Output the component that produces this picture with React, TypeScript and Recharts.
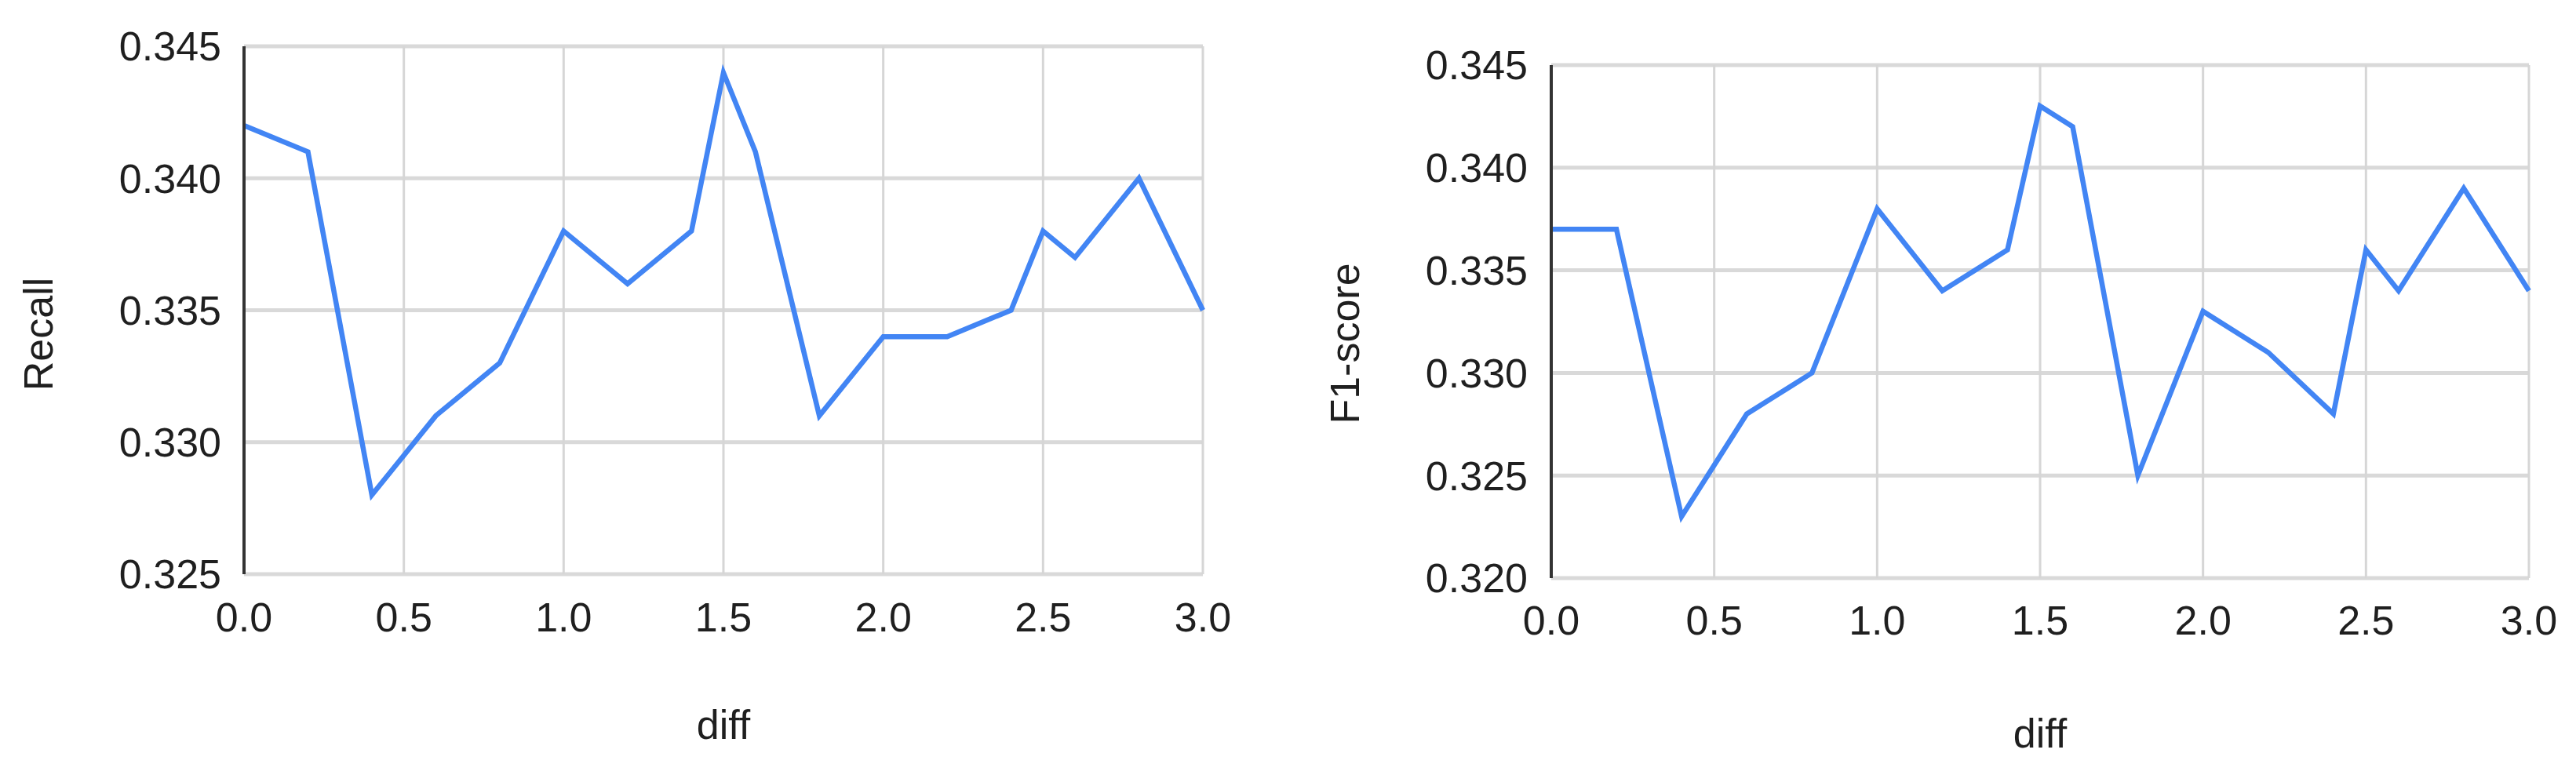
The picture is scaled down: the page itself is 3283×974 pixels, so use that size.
import { LineChart, Line, XAxis, YAxis, CartesianGrid, Label } from 'recharts';

// diff steps on the x axis
const diffValues = [0, 0.2, 0.4, 0.6, 0.8, 1.0, 1.2, 1.4, 1.5, 1.6, 1.8, 2.0, 2.2, 2.4, 2.5, 2.6, 2.8, 3.0];

const recallValues = [
  0.342, 0.341, 0.328, 0.331, 0.333, 0.338, 0.336, 0.338, 0.344,
  0.341, 0.331, 0.334, 0.334, 0.335, 0.338, 0.337, 0.34, 0.335,
];

const f1Values = [
  0.337, 0.337, 0.323, 0.328, 0.33, 0.338, 0.334, 0.336, 0.343,
  0.342, 0.325, 0.333, 0.331, 0.328, 0.336, 0.334, 0.339, 0.334,
];

const diffTicks = [0, 0.5, 1, 1.5, 2, 2.5, 3];
const recallTicks = [0.325, 0.33, 0.335, 0.34, 0.345];
const f1Ticks = [0.32, 0.325, 0.33, 0.335, 0.34, 0.345];

const FONT = '"Liberation Sans", Arial, sans-serif';
const TEXT = '#1f1f1f';
const BLUE = '#4285F4';

interface MetricChartProps {
  values: number[];
  ticks: number[];
  name: string;
  width: number;
  yAxisWidth: number;
  marginTop: number;
  marginRight: number;
  marginBottom: number;
  yTickGap: number;
  xTickGap: number;
  yTitle: [number, number];
  xTitle: [number, number];
}

function MetricChart(p: MetricChartProps) {
  const data = diffValues.map((d, i) => ({ diff: d, value: p.values[i] }));
  const tickStyle = { fill: TEXT, fontSize: 52, fontFamily: FONT };

  return (
    <LineChart
      width={p.width}
      height={974}
      data={data}
      margin={{ top: p.marginTop, right: p.marginRight, bottom: p.marginBottom, left: 0 }}
    >
      <CartesianGrid vertical={false} stroke="#d9d9d9" strokeWidth={5} />
      <CartesianGrid horizontal={false} stroke="#d6d6d6" strokeWidth={3} />
      <XAxis
        type="number"
        dataKey="diff"
        domain={[0, 3]}
        ticks={diffTicks}
        interval={0}
        height={100}
        axisLine={false}
        tickLine={false}
        tickSize={0}
        tickMargin={p.xTickGap}
        tick={tickStyle}
        tickFormatter={(v: number) => v.toFixed(1)}
      >
        <Label
          content={() => (
            <text x={p.xTitle[0]} y={p.xTitle[1]} textAnchor="middle" dominantBaseline="central" fill={TEXT} fontSize={52} fontFamily={FONT}>
              diff
            </text>
          )}
        />
      </XAxis>
      <YAxis
        type="number"
        domain={[p.ticks[0], p.ticks[p.ticks.length - 1]]}
        ticks={p.ticks}
        interval={0}
        width={p.yAxisWidth}
        axisLine={{ stroke: '#333333', strokeWidth: 4 }}
        tickLine={false}
        tickSize={0}
        tickMargin={p.yTickGap}
        tick={tickStyle}
        tickFormatter={(v: number) => v.toFixed(3)}
      >
        <Label
          content={() => (
            <text
              x={p.yTitle[0]}
              y={p.yTitle[1]}
              transform={`rotate(-90 ${p.yTitle[0]} ${p.yTitle[1]})`}
              textAnchor="middle"
              dominantBaseline="central"
              fill={TEXT}
              fontSize={52}
              fontFamily={FONT}
            >
              {p.name}
            </text>
          )}
        />
      </YAxis>
      <Line
        type="linear"
        dataKey="value"
        stroke={BLUE}
        strokeWidth={6.5}
        dot={false}
        activeDot={false}
        isAnimationActive={false}
      />
    </LineChart>
  );
}

export default function App() {
  return (
    <div style={{ position: 'absolute', left: 0, top: 0, width: 3283, height: 974, background: '#fff' }}>
      <div style={{ position: 'absolute', left: 0, top: 0 }}>
        <MetricChart
          values={recallValues}
          ticks={recallTicks}
          name="Recall"
          width={1640}
          yAxisWidth={311}
          marginTop={59}
          marginRight={107}
          marginBottom={142}
          yTickGap={29}
          xTickGap={36}
          yTitle={[49, 426]}
          xTitle={[922, 924]}
        />
      </div>
      <div style={{ position: 'absolute', left: 1640, top: 0 }}>
        <MetricChart
          values={f1Values}
          ticks={f1Ticks}
          name="F1-score"
          width={1643}
          yAxisWidth={337}
          marginTop={83}
          marginRight={60}
          marginBottom={137}
          yTickGap={30}
          xTickGap={35}
          yTitle={[74, 438]}
          xTitle={[960, 935]}
        />
      </div>
    </div>
  );
}
